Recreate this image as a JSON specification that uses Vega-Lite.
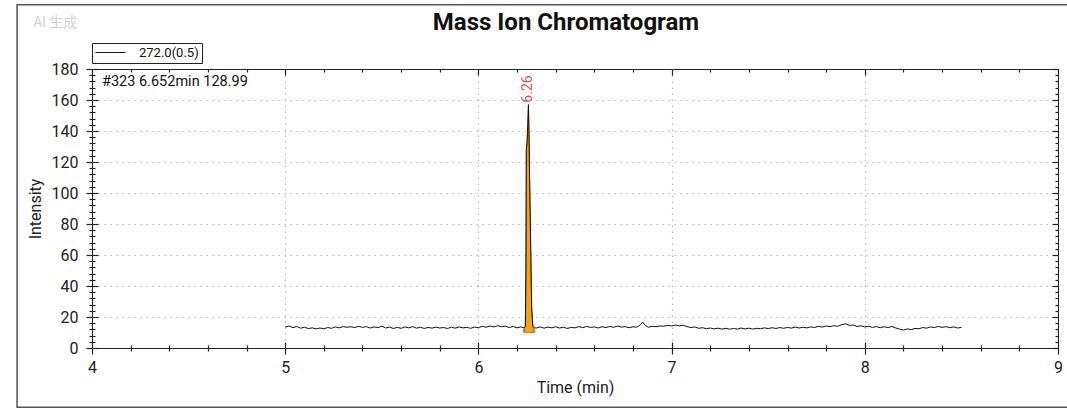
{
  "$schema": "https://vega.github.io/schema/vega-lite/v6.json",
  "width": 966,
  "height": 279,
  "autosize": {"type": "none"},
  "padding": {"left": 92, "top": 69, "right": 9, "bottom": 60},
  "background": "white",
  "config": {
    "view": {"stroke": "#222", "strokeWidth": 1},
    "font": "Roboto",
    "axis": {"labelFont": "Roboto", "titleFont": "Roboto", "labelColor": "#222", "titleColor": "#222", "tickColor": "#222", "labelFontSize": 16, "titleFontSize": 16, "titleFontWeight": "normal", "labelOverlap": false, "labelFlush": false}
  },
  "title": {"text": "Mass Ion Chromatogram", "font": "Roboto", "fontSize": 24, "fontWeight": "bold", "color": "#111", "anchor": "middle", "frame": "group", "dx": -9, "offset": -31.5},
  "datasets": {
    "trace": [
      {"t":5.00,"i":13.5},{"t":5.02,"i":14.2},{"t":5.04,"i":13.1},{"t":5.06,"i":13.9},{"t":5.08,"i":12.8},{"t":5.10,"i":13.4},{"t":5.12,"i":12.5},{"t":5.14,"i":13.0},{"t":5.16,"i":12.3},{"t":5.18,"i":12.9},
      {"t":5.20,"i":12.4},{"t":5.22,"i":13.2},{"t":5.24,"i":12.7},{"t":5.26,"i":13.6},{"t":5.28,"i":13.0},{"t":5.30,"i":13.8},{"t":5.32,"i":13.4},{"t":5.34,"i":13.7},{"t":5.36,"i":13.2},{"t":5.38,"i":14.0},
      {"t":5.40,"i":13.3},{"t":5.42,"i":13.8},{"t":5.44,"i":12.9},{"t":5.46,"i":13.6},{"t":5.48,"i":13.1},{"t":5.50,"i":14.1},{"t":5.52,"i":12.9},{"t":5.54,"i":13.5},{"t":5.56,"i":12.6},{"t":5.58,"i":13.3},
      {"t":5.60,"i":12.7},{"t":5.62,"i":13.6},{"t":5.64,"i":13.0},{"t":5.66,"i":13.8},{"t":5.68,"i":12.8},{"t":5.70,"i":13.4},{"t":5.72,"i":12.6},{"t":5.74,"i":13.3},{"t":5.76,"i":12.8},{"t":5.78,"i":13.5},
      {"t":5.80,"i":12.9},{"t":5.82,"i":13.2},{"t":5.84,"i":12.6},{"t":5.86,"i":13.4},{"t":5.88,"i":12.8},{"t":5.90,"i":13.6},{"t":5.92,"i":13.0},{"t":5.94,"i":13.3},{"t":5.96,"i":12.7},{"t":5.98,"i":13.5},
      {"t":6.00,"i":13.1},{"t":6.02,"i":14.0},{"t":6.04,"i":13.4},{"t":6.06,"i":14.2},{"t":6.08,"i":13.6},{"t":6.10,"i":14.4},{"t":6.12,"i":13.7},{"t":6.14,"i":14.1},{"t":6.16,"i":13.2},{"t":6.18,"i":13.9},
      {"t":6.20,"i":13.0},{"t":6.22,"i":13.6},{"t":6.236,"i":13.0},{"t":6.243,"i":14},{"t":6.246,"i":50},{"t":6.248,"i":128},{"t":6.252,"i":133},{"t":6.256,"i":145},{"t":6.259,"i":157},{"t":6.262,"i":138},
      {"t":6.265,"i":110},{"t":6.268,"i":88},{"t":6.272,"i":55},{"t":6.276,"i":25},{"t":6.282,"i":14},{"t":6.288,"i":13.0},
      {"t":6.30,"i":12.9},{"t":6.32,"i":13.6},{"t":6.34,"i":12.8},{"t":6.36,"i":13.5},{"t":6.38,"i":13.0},{"t":6.40,"i":13.7},{"t":6.42,"i":12.9},{"t":6.44,"i":13.4},{"t":6.46,"i":12.6},{"t":6.48,"i":13.3},
      {"t":6.50,"i":13.0},{"t":6.52,"i":13.8},{"t":6.54,"i":13.1},{"t":6.56,"i":13.9},{"t":6.58,"i":13.3},{"t":6.60,"i":13.6},{"t":6.62,"i":12.9},{"t":6.64,"i":13.7},{"t":6.66,"i":13.2},{"t":6.68,"i":13.9},
      {"t":6.70,"i":13.4},{"t":6.72,"i":14.1},{"t":6.74,"i":13.5},{"t":6.76,"i":13.8},{"t":6.78,"i":13.1},{"t":6.80,"i":13.7},{"t":6.82,"i":13.4},{"t":6.84,"i":15.2},{"t":6.85,"i":16.8},{"t":6.86,"i":15.0},
      {"t":6.88,"i":13.4},{"t":6.90,"i":14.0},{"t":6.92,"i":13.7},{"t":6.94,"i":14.3},{"t":6.96,"i":14.0},{"t":6.98,"i":14.6},{"t":7.00,"i":14.2},{"t":7.02,"i":14.8},{"t":7.04,"i":14.3},{"t":7.06,"i":14.7},
      {"t":7.08,"i":13.8},{"t":7.10,"i":13.2},{"t":7.12,"i":13.6},{"t":7.14,"i":12.7},{"t":7.16,"i":13.1},{"t":7.18,"i":12.4},{"t":7.20,"i":12.9},{"t":7.22,"i":12.3},{"t":7.24,"i":12.8},{"t":7.26,"i":12.2},
      {"t":7.28,"i":12.7},{"t":7.30,"i":12.1},{"t":7.32,"i":12.6},{"t":7.34,"i":12.2},{"t":7.36,"i":12.9},{"t":7.38,"i":12.3},{"t":7.40,"i":12.8},{"t":7.42,"i":12.2},{"t":7.44,"i":12.7},{"t":7.46,"i":12.4},
      {"t":7.48,"i":13.0},{"t":7.50,"i":12.5},{"t":7.52,"i":13.1},{"t":7.54,"i":12.6},{"t":7.56,"i":13.2},{"t":7.58,"i":12.7},{"t":7.60,"i":13.3},{"t":7.62,"i":12.8},{"t":7.64,"i":13.5},{"t":7.66,"i":12.9},
      {"t":7.68,"i":13.4},{"t":7.70,"i":13.0},{"t":7.72,"i":13.6},{"t":7.74,"i":13.2},{"t":7.76,"i":14.0},{"t":7.78,"i":13.5},{"t":7.80,"i":14.2},{"t":7.82,"i":13.8},{"t":7.84,"i":14.4},{"t":7.86,"i":14.0},
      {"t":7.88,"i":15.0},{"t":7.90,"i":15.6},{"t":7.92,"i":14.6},{"t":7.94,"i":14.8},{"t":7.96,"i":13.9},{"t":7.98,"i":14.3},{"t":8.00,"i":13.6},{"t":8.02,"i":14.0},{"t":8.04,"i":13.3},{"t":8.06,"i":13.8},
      {"t":8.08,"i":13.1},{"t":8.10,"i":13.7},{"t":8.12,"i":13.2},{"t":8.14,"i":13.9},{"t":8.16,"i":12.9},{"t":8.18,"i":12.2},{"t":8.20,"i":11.6},{"t":8.22,"i":12.3},{"t":8.24,"i":11.9},{"t":8.26,"i":12.6},
      {"t":8.28,"i":12.4},{"t":8.30,"i":13.2},{"t":8.32,"i":12.8},{"t":8.34,"i":13.6},{"t":8.36,"i":13.2},{"t":8.38,"i":13.9},{"t":8.40,"i":13.3},{"t":8.42,"i":13.8},{"t":8.44,"i":13.1},{"t":8.46,"i":13.6},
      {"t":8.48,"i":12.9},{"t":8.50,"i":13.3}
    ],
    "peak": [
      {"t":6.236,"i":13.0},{"t":6.243,"i":14},{"t":6.246,"i":50},{"t":6.248,"i":128},{"t":6.252,"i":133},{"t":6.256,"i":145},{"t":6.259,"i":157},{"t":6.262,"i":138},{"t":6.265,"i":110},{"t":6.268,"i":88},{"t":6.272,"i":55},{"t":6.276,"i":25},{"t":6.282,"i":14},{"t":6.288,"i":13.0}
    ],
    "bounds": [
      {"t":6.236,"i":11.5},{"t":6.288,"i":11.5}
    ],
    "one": [{}]
  },
  "resolve": {"axis": {"x": "independent", "y": "independent"}},
  "layer": [
    {
      "data": {"name": "one"},
      "mark": {"type": "rect", "fill": null, "fillOpacity": 0, "stroke": "#555", "strokeWidth": 1.5},
      "encoding": {
        "x": {"datum": 3.612, "type": "quantitative", "scale": {"domain": [4, 9], "nice": false, "zero": false}, "axis": null},
        "x2": {"datum": 9.2},
        "y": {"datum": 221.5, "type": "quantitative", "scale": {"domain": [0, 180], "nice": false}, "axis": null},
        "y2": {"datum": -38.2}
      }
    },
    {
      "data": {"name": "one"},
      "mark": {"type": "text", "text": "AI 生成", "font": "Noto Sans CJK SC", "fontSize": 14, "color": "#d2d2d2", "align": "center", "baseline": "middle"},
      "encoding": {
        "x": {"datum": 3.81, "type": "quantitative", "scale": {"domain": [4, 9], "nice": false, "zero": false}, "axis": null},
        "y": {"datum": 210, "type": "quantitative", "scale": {"domain": [0, 180], "nice": false}, "axis": null}
      }
    },
    {
      "data": {"name": "peak"},
      "mark": {"type": "area", "color": "#F2A31E", "stroke": "#9a6400", "strokeWidth": 0.8},
      "encoding": {
        "x": {"field": "t", "type": "quantitative", "scale": {"domain": [4, 9], "nice": false, "zero": false},
          "axis": {"values": [5, 6, 7, 8], "grid": true, "ticks": false, "labels": false, "domain": false, "title": null, "gridColor": "#b8b8b8", "gridDash": [1.5, 4.5], "gridWidth": 1.2}},
        "y": {"field": "i", "type": "quantitative", "scale": {"domain": [0, 180], "nice": false},
          "axis": {"values": [20, 40, 60, 80, 100, 120, 140, 160], "grid": true, "ticks": false, "labels": false, "domain": false, "title": null, "gridColor": "#b8b8b8", "gridDash": [1.5, 4.5], "gridWidth": 1.2}},
        "y2": {"datum": 10}
      }
    },
    {
      "data": {"name": "trace"},
      "mark": {"type": "line", "strokeWidth": 1},
      "encoding": {
        "x": {"field": "t", "type": "quantitative", "scale": {"domain": [4, 9], "nice": false, "zero": false},
          "axis": {"orient": "bottom", "values": [4, 5, 6, 7, 8, 9], "offset": -6, "tickSize": 12, "tickWidth": 1.2, "domain": false, "grid": false, "labelPadding": 5, "title": "Time (min)", "titlePadding": 4}},
        "y": {"field": "i", "type": "quantitative", "scale": {"domain": [0, 180], "nice": false},
          "axis": {"orient": "left", "values": [0, 20, 40, 60, 80, 100, 120, 140, 160, 180], "offset": -6, "tickSize": 12, "tickWidth": 1.2, "domain": false, "grid": false, "labelPadding": 8, "title": "Intensity", "titlePadding": 8}},
        "color": {"datum": "272.0(0.5)", "type": "nominal", "scale": {"range": ["#111"]},
          "legend": {"orient": "none", "legendX": 0, "legendY": -26, "title": null, "symbolType": "stroke", "symbolSize": 900, "symbolStrokeWidth": 1, "clipHeight": 13, "labelFontSize": 13, "labelFont": "Roboto", "labelColor": "#111", "strokeColor": "#222", "padding": 3, "labelOffset": 13}}
      }
    },
    {
      "data": {"name": "one"},
      "mark": {"type": "text", "text": "6.26", "angle": 270, "align": "left", "baseline": "middle", "dx": 2, "fontSize": 14, "color": "#e0505a", "font": "Roboto"},
      "encoding": {
        "x": {"datum": 6.259, "type": "quantitative", "scale": {"domain": [4, 9], "nice": false, "zero": false},
          "axis": {"orient": "bottom", "values": [4.2, 4.4, 4.6, 4.8, 5.2, 5.4, 5.6, 5.8, 6.2, 6.4, 6.6, 6.8, 7.2, 7.4, 7.6, 7.8, 8.2, 8.4, 8.6, 8.8], "offset": -3, "tickSize": 6, "tickWidth": 1.2, "domain": false, "grid": false, "labels": false, "title": null}},
        "y": {"datum": 157, "type": "quantitative", "scale": {"domain": [0, 180], "nice": false},
          "axis": {"orient": "left", "values": [4, 8, 12, 16, 24, 28, 32, 36, 44, 48, 52, 56, 64, 68, 72, 76, 84, 88, 92, 96, 104, 108, 112, 116, 124, 128, 132, 136, 144, 148, 152, 156, 164, 168, 172, 176], "offset": -3, "tickSize": 6, "tickWidth": 1.2, "domain": false, "grid": false, "labels": false, "title": null}}
      }
    },
    {
      "data": {"name": "one"},
      "mark": {"type": "text", "text": "#323  6.652min  128.99", "align": "left", "baseline": "top", "dx": 10, "dy": 6, "fontSize": 14.5, "color": "#111", "font": "Roboto"},
      "encoding": {
        "x": {"datum": 4, "type": "quantitative", "scale": {"domain": [4, 9], "nice": false, "zero": false},
          "axis": {"orient": "top", "values": [4, 5, 6, 7, 8, 9], "offset": -6, "tickSize": 6, "tickWidth": 1.2, "domain": false, "grid": false, "labels": false, "title": null}},
        "y": {"datum": 180, "type": "quantitative", "scale": {"domain": [0, 180], "nice": false},
          "axis": {"orient": "right", "values": [0, 20, 40, 60, 80, 100, 120, 140, 160, 180], "offset": -6, "tickSize": 6, "tickWidth": 1.2, "domain": false, "grid": false, "labels": false, "title": null}}
      }
    },
    {
      "data": {"name": "bounds"},
      "mark": {"type": "point", "shape": "triangle-up", "filled": true, "size": 12, "color": "#e8503a", "opacity": 0.75},
      "encoding": {
        "x": {"field": "t", "type": "quantitative", "scale": {"domain": [4, 9], "nice": false, "zero": false},
          "axis": {"orient": "top", "values": [4.2, 4.4, 4.6, 4.8, 5.2, 5.4, 5.6, 5.8, 6.2, 6.4, 6.6, 6.8, 7.2, 7.4, 7.6, 7.8, 8.2, 8.4, 8.6, 8.8], "offset": -3, "tickSize": 3, "tickWidth": 1.2, "domain": false, "grid": false, "labels": false, "title": null}},
        "y": {"field": "i", "type": "quantitative", "scale": {"domain": [0, 180], "nice": false},
          "axis": {"orient": "right", "values": [4, 8, 12, 16, 24, 28, 32, 36, 44, 48, 52, 56, 64, 68, 72, 76, 84, 88, 92, 96, 104, 108, 112, 116, 124, 128, 132, 136, 144, 148, 152, 156, 164, 168, 172, 176], "offset": -3, "tickSize": 3, "tickWidth": 1.2, "domain": false, "grid": false, "labels": false, "title": null}}
      }
    }
  ]
}
